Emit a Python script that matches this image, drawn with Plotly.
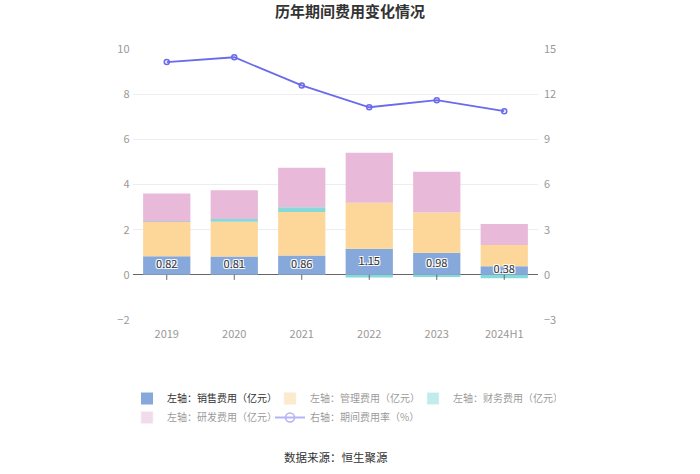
import plotly.graph_objects as go

categories = ["2019", "2020", "2021", "2022", "2023", "2024H1"]
sales = [0.82, 0.81, 0.86, 1.15, 0.98, 0.38]
admin = [1.53, 1.54, 1.92, 2.04, 1.78, 0.94]
finance = [0.01, 0.12, 0.21, -0.12, -0.10, -0.15]
rnd = [1.24, 1.28, 1.75, 2.22, 1.81, 0.93]
rate = [14.13, 14.45, 12.58, 11.13, 11.60, 10.87]

names = ["左轴：销售费用（亿元）", "左轴：管理费用（亿元）", "左轴：财务费用（亿元）",
         "左轴：研发费用（亿元）", "右轴：期间费用率（%）"]
colors = ["#87a8da", "#fdd699", "#86d9d9", "#e8b9d9", "#6a6aec"]

FONT = "Noto Sans CJK SC"
fig = go.Figure()

series = [sales, admin, finance, rnd]
for i, vals in enumerate(series):
    fig.add_trace(go.Bar(x=categories, y=vals, name=names[i], marker_color=colors[i],
                         marker_line_width=0, showlegend=(i == 0), hoverinfo="skip"))

# value labels of the sales bars, drawn on top of all bars
fig.add_trace(go.Scatter(x=categories, y=[v / 2 for v in sales], mode="text",
                         text=[f"{v:.2f}" for v in sales], textposition="middle center",
                         textfont=dict(color="#333", size=11, family=FONT,
                                       shadow="-1px -1px 0 #fff, 1px -1px 0 #fff, -1px 1px 0 #fff, 1px 1px 0 #fff"),
                         showlegend=False, hoverinfo="skip"))

fig.add_trace(go.Scatter(x=categories, y=rate, name=names[4], yaxis="y2", mode="lines+markers",
                         line=dict(color=colors[4], width=1.8),
                         marker=dict(symbol="circle-open", size=5, color=colors[4], line=dict(width=1.5)),
                         showlegend=False, hoverinfo="skip"))

# faded legend entries (as in the reference)
for i in range(1, 4):
    fig.add_trace(go.Bar(x=categories, y=series[i], name=names[i], marker_color=colors[i],
                         visible="legendonly"))
fig.add_trace(go.Scatter(x=categories, y=rate, name=names[4], yaxis="y2", mode="lines+markers",
                         line=dict(color=colors[4], width=2),
                         marker=dict(symbol="circle-open", size=9, color=colors[4], line=dict(width=1.5)),
                         visible="legendonly"))

# short tick marks hanging below the zero line at each category
shapes = [dict(type="line", xref="x", yref="y", x0=i, x1=i, ysizemode="pixel", yanchor=0,
               y0=0, y1=-5, line=dict(color="#666", width=1)) for i in range(len(categories))]

fig.update_layout(
    width=700, height=474,
    margin=dict(l=133, r=162, t=49, b=154),
    paper_bgcolor="white", plot_bgcolor="white",
    barmode="relative", bargap=0.3,
    font=dict(family=FONT, size=11, color="#666"),
    title=dict(text="<b>历年期间费用变化情况</b>", x=0.5, xanchor="center", y=1 - 12 / 474, yanchor="middle",
               font=dict(size=15, color="#333", family=FONT)),
    xaxis=dict(type="category", showgrid=False, showline=False, ticks="", ticklabelstandoff=6,
               tickfont=dict(color="#999", size=11)),
    yaxis=dict(range=[-2, 10], dtick=2, showgrid=True, gridcolor="#ebedf2",
               zeroline=True, zerolinecolor="#666", zerolinewidth=1,
               tickfont=dict(color="#999", size=11), ticksuffix=" "),
    yaxis2=dict(range=[-3, 15], dtick=3, overlaying="y", side="right", showgrid=False, zeroline=False,
                tickfont=dict(color="#999", size=11), tickprefix="  "),
    legend=dict(orientation="h", x=-6 / 405, y=-(384 - 320) / 271, xanchor="left", yanchor="top",
                entrywidth=98, entrywidthmode="pixels", traceorder="normal",
                font=dict(size=10, color="#333"), itemclick=False, itemdoubleclick=False),
    shapes=shapes,
    annotations=[dict(text="数据来源：恒生聚源", x=0.5, xref="paper", y=-(457 - 320) / 271, yref="paper",
                      yanchor="middle", showarrow=False, font=dict(size=11.5, color="#333"))],
)

fig.write_html("out.html", config={"displayModeBar": False},
               post_script="document.body.style.margin='0';")
